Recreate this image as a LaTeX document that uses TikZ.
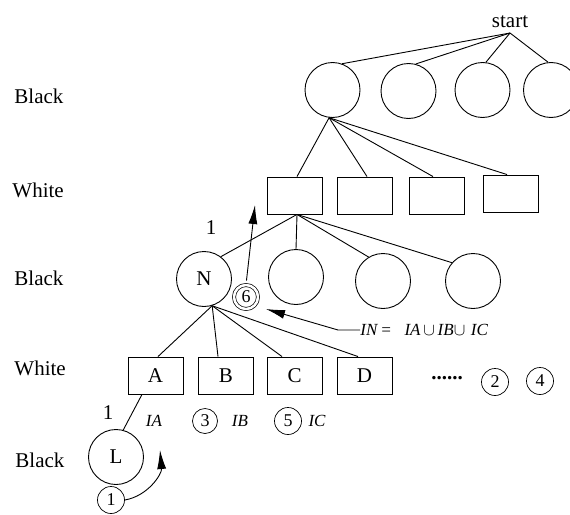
\documentclass[tikz,border=0pt]{standalone}
\usepackage{fontspec}
\setmainfont{Liberation Serif}
\usetikzlibrary{calc,arrows.meta}
\begin{document}
\begin{tikzpicture}[x=1pt,y=-1pt,line width=0.9pt,
  lbl/.style={font=\fontsize{21}{24}\selectfont, inner sep=0pt},
  circ/.style={draw, circle, minimum size=55pt, inner sep=0pt, font=\fontsize{21}{24}\selectfont},
  sq/.style={draw, rectangle, minimum width=55pt, minimum height=37pt, inner sep=0pt, font=\fontsize{21}{24}\selectfont},
  num/.style={draw, circle, minimum size=27pt, inner sep=0pt, line width=0.7pt, font=\fontsize{18}{20}\selectfont},
  ital/.style={font=\fontsize{17}{20}\selectfont\itshape, inner sep=0pt},
  arr/.style={-{Latex[length=19pt,width=9pt]}}
]
\useasboundingbox (0,0) rectangle (570,514);

% row labels
\node[lbl,anchor=west] (lb1) at (14,96) {Black};
\node[lbl,anchor=west] (lw1) at (12,190) {White};
\node[lbl,anchor=west] (lb2) at (14,278) {Black};
\node[lbl,anchor=west] (lw2) at (14,368) {White};
\node[lbl,anchor=west] (lb3) at (15,460) {Black};

% start
\coordinate (start) at (510,33);
\node[lbl,anchor=south] (starttxt) at (510,28) {start};

% top row circles
\node[circ] (t1) at (332.5,90) {};
\node[circ] (t2) at (408.5,91) {};
\node[circ] (t3) at (482.5,90) {};
\node[circ] (t4) at (551,90) {};

% white boxes row 1
\node[sq] (w1) at (294.5,195.5) {};
\node[sq] (w2) at (364.5,195.5) {};
\node[sq] (w3) at (436.5,195.5) {};
\node[sq] (w4) at (510.5,193.5) {};

% black row 2
\node[circ] (N) at (204,279) {N};
\node[circ] (m2) at (296,277) {};
\node[circ] (m3) at (383,281) {};
\node[circ] (m4) at (473,281) {};

% white boxes row 2
\node[sq] (A) at (155.5,375.5) {A};
\node[sq] (B) at (226,375.5) {B};
\node[sq] (C) at (294.5,375.5) {C};
\node[sq] (D) at (364.5,375.5) {D};

% leaf
\node[circ] (L) at (116,457) {L};

% edges
\draw (start) -- (t1.70);
\draw (start) -- (t2.75);
\draw (start) -- (t3.83);
\draw (start) -- (t4.96);

\draw (t1.263) -- ($(w1.north)+(2.5,0)$);
\draw (t1.263) -- ($(w2.north)+(2.5,0)$);
\draw (t1.263) -- ($(w3.north)+(-3.5,0)$);
\draw (t1.263) -- ($(w4.north)+(-3.5,0)$);

\draw ($(w1.south)+(2.5,0)$) -- (N.53);
\draw ($(w1.south)+(2.5,0)$) -- (m2.90);
\draw ($(w1.south)+(2.5,0)$) -- (m3.121);
\draw ($(w1.south)+(2.5,0)$) -- (m4.139);

\draw (N.287) -- ($(A.north)+(2.5,0)$);
\draw (N.287) -- ($(B.north)+(-8,0)$);
\draw (N.287) -- ($(C.north)+(-12.5,0)$);
\draw (N.287) -- ($(D.north)+(-6.5,0)$);

\draw ($(A.south)+(-13.5,0)$) -- (L.75);

% edge labels
\node[lbl] (one1) at (211,228) {1};
\node[lbl] (one2) at (108,413) {1};

% I labels
\node[ital] (IA) at (154,421) {IA};
\node[num,minimum size=25pt] (n3) at (205,421) {3};
\node[ital] (IB) at (240,421) {IB};
\node[num] (n5) at (288,421) {5};
\node[ital] (IC) at (317,421) {IC};

% dots and circled numbers
\node[lbl] (dots) at (447,378) {\textbf{......}};
\node[num] (n2) at (495,382) {2};
\node[num] (n4) at (540,381) {4};

% step 1
\node[num] (n1) at (111,500) {1};
\coordinate (tip1) at (160,450);
\draw[arr] (n1.east) to[out=10,in=-85] (tip1);

% step 6
\node[num,double,double distance=2.5pt,minimum size=24pt] (n6) at (246,297) {6};
\coordinate (tip6) at (255,205);
\draw[arr,shorten <=4pt] (n6.north) -- (tip6);

% IN annotation
\node[ital,anchor=west] (IN) at (360,330) {IN\,=\ \ \ IA\,$\cup$\,IB$\cup$\,\,IC};
\coordinate (tipIN) at (266,309);
\draw[arr] (IN.west) -- ++(-22,0) -- (tipIN);
\end{tikzpicture}
\end{document}
